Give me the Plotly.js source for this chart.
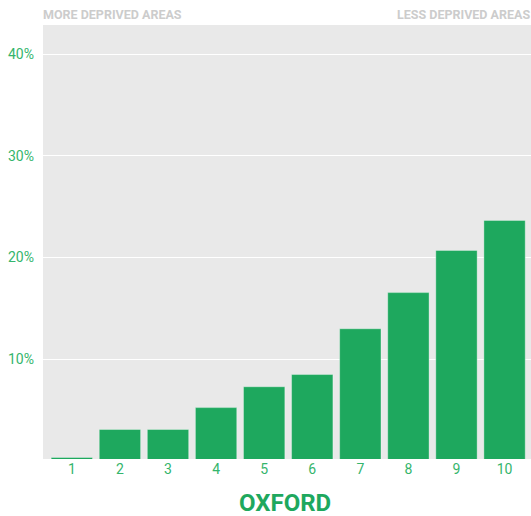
<!DOCTYPE html>
<html>
<head>
<meta charset="utf-8">
<script src="https://cdn.plot.ly/plotly-3.0.1.min.js"></script>
<style>
  html, body { margin: 0; padding: 0; background: #fff; overflow: hidden; }
  #chart { width: 531px; height: 516px; }
</style>
</head>
<body>
<div id="chart"></div>
<script>
// Share of population in each deprivation decile (1 = most deprived)
const deciles = ['1', '2', '3', '4', '5', '6', '7', '8', '9', '10'];
const shares = [0.35, 3.1, 3.1, 5.25, 7.3, 8.5, 13.0, 16.55, 20.7, 23.65];
const yTickVals = [10, 20, 30, 40];
const yTickText = ['10%', '20%', '30%', '40%'];
const cityName = 'OXFORD';

const green = '#1ea85e';
const labelGreen = '#35b56c';

const trace = {
  type: 'bar',
  x: deciles.map(Number),
  y: shares,
  marker: { color: green, line: { color: 'rgba(255,255,255,0.35)', width: 1 } },
  hoverinfo: 'none'
};

const layout = {
  width: 531,
  height: 516,
  margin: { l: 43, r: 0, t: 25, b: 57 },
  paper_bgcolor: '#ffffff',
  plot_bgcolor: '#e9e9e9',
  bargap: 0.14,
  showlegend: false,
  font: { family: 'Roboto, sans-serif' },
  xaxis: {
    range: [0.4, 10.55],
    tickvals: deciles.map(Number),
    ticktext: deciles,
    showgrid: false,
    zeroline: false,
    ticks: '',
    automargin: false,
    tickfont: { size: 14, color: labelGreen }
  },
  yaxis: {
    // the baseline sits just under the plot's lower edge
    range: [0.2, 42.85],
    tickvals: yTickVals,
    ticktext: yTickText,
    showgrid: true,
    gridcolor: '#ffffff',
    gridwidth: 1,
    zeroline: false,
    ticks: '',
    automargin: false,
    ticklabelstandoff: 8,
    tickfont: { size: 14, color: labelGreen }
  },
  annotations: [
    {
      text: '<b>' + cityName + '</b>',
      xref: 'paper', yref: 'paper', x: 0.5, y: 0,
      xanchor: 'center', yanchor: 'top', yshift: -28, xshift: -2,
      showarrow: false,
      font: { size: 24, color: green }
    },
    {
      text: '<b>MORE DEPRIVED AREAS</b>',
      xref: 'paper', yref: 'paper', x: 0, y: 1,
      xanchor: 'left', yanchor: 'bottom', yshift: 1, xshift: -2,
      showarrow: false,
      font: { size: 12.5, color: '#cccccc' }
    },
    {
      text: '<b>LESS DEPRIVED AREAS</b>',
      xref: 'paper', yref: 'paper', x: 1, y: 1,
      xanchor: 'right', yanchor: 'bottom', yshift: 1, xshift: 1,
      showarrow: false,
      font: { size: 12.5, color: '#cccccc' }
    }
  ]
};

Plotly.newPlot('chart', [trace], layout, { displayModeBar: false, staticPlot: true });
</script>
</body>
</html>
